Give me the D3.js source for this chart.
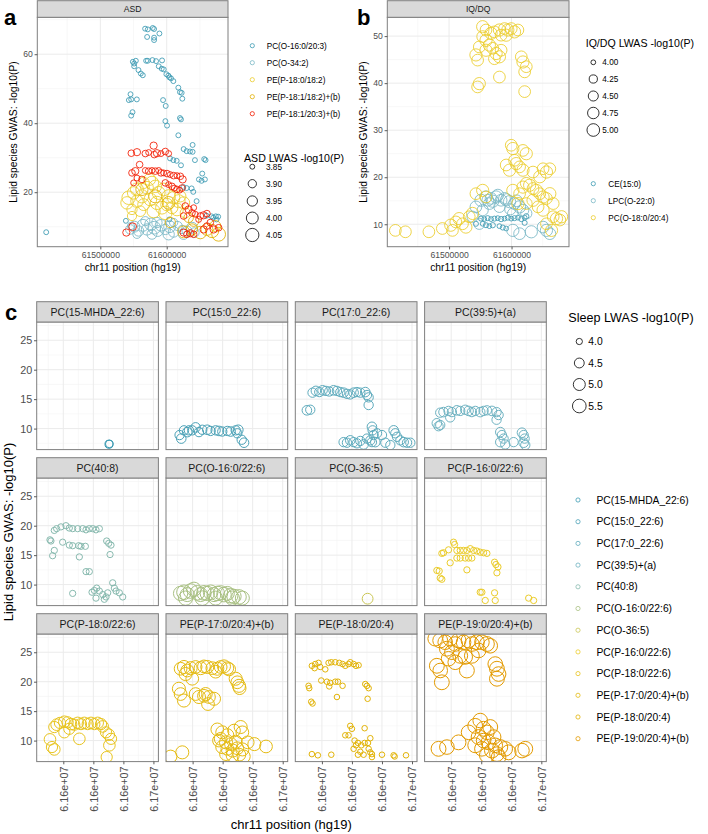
<!DOCTYPE html>
<html><head><meta charset="utf-8">
<script src="https://cdn.jsdelivr.net/npm/d3@7"></script>
<style>
body{margin:0;background:#fff;}
svg{display:block;}
</style></head><body>
<svg id="chart" width="708" height="834"></svg>
<script>
// ---------------- DATA ----------------
const zissou = ["#3B9AB2","#78B7C5","#EBCC2A","#E1AF00","#F21A00"];

// Panel a (ASD): [chr11 position, lipid GWAS -log10(P), ASD LWAS -log10(P)]
const asdSeries = ["PC(O-16:0/20:3)","PC(O-34:2)","PE(P-18:0/18:2)","PE(P-18:1/18:2)+(b)","PE(P-18:1/20:3)+(b)"];
const asd_PCO16 = [[61567500,67.4,3.85],[61571500,67.2,3.85],[61579000,67.6,3.85],[61581000,67.3,3.85],[61589000,66.0,3.85],[61570500,65.0,3.85],[61581000,64.8,3.85],[61581000,64.1,3.85],
[61549000,57.8,3.85],[61551000,57.3,3.85],[61553500,58.1,3.85],[61569000,58.1,3.85],[61571500,58.1,3.85],[61578500,58.3,3.85],[61584000,58.0,3.85],[61593000,58.2,3.85],[61588000,56.5,3.85],[61592500,55.8,3.85],[61595500,55.6,3.85],[61599500,54.2,3.85],[61602500,53.8,3.85],[61604000,53.3,3.85],[61606500,53.0,3.85],[61610000,52.2,3.85],[61551000,56.5,3.85],[61557500,55.4,3.85],[61561000,54.4,3.85],[61564000,53.9,3.85],[61617500,50.3,3.85],[61620000,49.0,3.85],[61622500,48.8,3.85],[61623500,47.1,3.85],[61545500,48.4,3.85],[61543000,46.7,3.85],[61546500,46.9,3.85],[61555000,46.9,3.85],[61594500,46.7,3.85],[61598500,45.0,3.85],[61548500,43.2,3.85],[61546500,42.2,3.85],[61620000,41.5,3.85],[61621500,41.1,3.85],[61598000,40.6,3.85],[61600500,39.3,3.85],[61617500,36.5,3.85],[61639000,33.7,3.85],[61625500,32.5,3.85],[61630000,31.9,3.85],[61635000,31.8,3.85],[61639000,31.7,3.85],[61605000,29.8,3.85],[61610000,29.3,3.85],[61615000,29.1,3.85],[61621500,27.8,3.85],[61642500,29.3,3.85],[61656500,29.6,3.85],[61658500,29.3,3.85],[61653500,25.4,3.85],[61648500,23.7,3.85],[61652500,23.3,3.85],[61657500,23.7,3.85],[61625000,21.5,3.85],[61630000,21.2,3.85],[61637500,21.1,3.85],[61640000,20.1,3.85],[61645000,17.4,3.85],[61538500,11.7,3.85],[61604000,12.1,3.85],[61660000,13.2,3.85],[61667500,13.0,3.85],[61670000,12.6,3.85],[61674000,13.0,3.85],[61677500,12.9,3.85],[61675000,12.1,3.85],[61418500,8.4,3.85]];
const asd_PCO34 = [[61545200,9.2,3.93],[61551200,10.0,3.97],[61557700,8.75,3.95],[61564300,10.4,4.00],[61570300,9.2,3.98],[61576300,10.7,4.02],[61581300,9.7,4.03],[61586300,8.75,3.97],[61591400,10.4,3.99],[61597900,9.2,3.95],[61604400,10.0,4.00],[61610400,8.5,3.96],[61616500,10.2,3.92],[61623000,9.2,3.90],[61630500,8.75,3.94],[61638100,9.7,3.97],[61641600,8.3,3.93],[61555200,7.8,3.90],[61577800,7.8,3.94],[61602900,7.8,3.98],[61625500,7.8,3.95],[61567800,11.6,3.92],[61585300,11.2,3.95],[61610400,11.2,3.90],[61546200,10.2,3.88]];
const asd_PEP180 = [[61542700,18.4,4.06],[61550200,19.8,4.02],[61555200,20.8,4.04],[61562700,18.8,4.05],[61570300,21.3,4.03],[61577800,22.7,4.05],[61582800,21.7,4.02],[61587800,19.8,4.04],[61595400,20.8,4.03],[61602900,18.8,4.05],[61610400,18.4,4.02],[61617900,17.4,4.04],[61625500,16.9,4.01],[61555200,17.4,4.02],[61565300,16.4,4.00],[61575300,17.9,4.03],[61585300,16.9,4.05],[61592900,15.5,4.03],[61600400,16.4,4.02],[61607900,15.5,4.00],[61615500,15.0,4.03],[61580300,14.5,4.05],[61597900,14.0,4.06],[61547700,15.0,3.95],[61547700,13.1,3.92],[61565300,22.7,3.98],[61574300,23.7,4.00],[61540200,16.9,4.02],[61620500,18.8,3.98],[61560200,14.5,3.96],[61628000,14.0,3.95]];
const asd_PEP181 = [[61625500,8.5,4.00],[61638100,9.2,3.98],[61650600,8.3,4.02],[61660600,9.2,4.00],[61668200,8.75,4.05],[61678200,7.8,4.07],[61673200,10.2,3.97],[61605400,11.2,3.95],[61633000,12.6,3.93],[61602900,16.9,4.03],[61582800,18.8,4.04],[61562700,20.8,4.01],[61640600,11.6,3.95]];
const asd_PEP181_203 = [[61546700,31.3,3.87],[61555200,31.6,3.88],[61567800,31.2,3.87],[61572800,31.5,3.86],[61580300,33.5,3.88],[61581300,30.9,3.87],[61585300,31.3,3.88],[61591400,31.2,3.86],[61597900,31.8,3.87],[61602900,31.2,3.86],
[61547700,25.6,3.87],[61552700,26.1,3.88],[61555200,24.1,3.86],[61559200,28.0,3.87],[61567800,26.3,3.86],[61572800,26.1,3.87],[61577800,26.3,3.86],[61582800,26.1,3.87],[61587800,26.3,3.86],[61591400,25.6,3.87],[61595400,25.6,3.86],[61600400,25.4,3.87],[61605400,25.1,3.86],[61610400,24.8,3.87],[61615500,24.8,3.86],[61620500,24.6,3.87],[61624000,23.7,3.88],[61562700,23.7,3.87],[61550200,22.7,3.86],
[61597900,22.7,3.87],[61602900,22.2,3.86],[61607900,21.7,3.87],[61611400,21.2,3.86],[61615500,20.8,3.87],[61619500,20.6,3.86],[61623000,21.2,3.87],
[61628000,16.0,3.87],[61633000,15.0,3.88],[61638100,14.0,3.87],[61643100,13.6,3.86],[61650600,13.1,3.87],[61655600,13.3,3.88],[61660600,13.8,3.87],[61640600,15.5,3.86],[61625500,13.1,3.87],[61648100,12.1,3.86],[61665700,11.2,3.87],
[61539200,8.3,3.88],[61548700,10.0,3.89],[61625500,8.3,3.88],[61630500,7.8,3.87],[61635500,8.1,3.88],[61640600,7.8,3.87],[61655600,9.2,3.88],[61660600,10.2,3.87],[61670700,9.2,3.88],[61678200,9.7,3.87]];
const asdSizeBreaks = [3.85,3.90,3.95,4.00,4.05];
const asdYTicks = [20,40,60];
const posTicks = [61500000,61600000];

// Panel b (IQ/DQ)
const iqSeries = ["CE(15:0)","LPC(O-22:0)","PC(O-18:0/20:4)"];
const iq_CE = [[61551100,11.2,4.01],[61556400,11.1,4.00],[61561800,11.3,4.01],[61567200,11.1,4.00],[61572600,11.2,4.01],[61578000,11.3,4.00],[61583300,11.1,4.02],[61588700,11.2,4.00],[61594100,11.4,4.01],[61599500,11.2,4.00],[61604800,11.3,4.01],[61610200,11.4,4.00],[61615600,11.1,4.01],[61621000,11.4,4.00],[61623600,11.7,4.02],[61543000,10.1,4.01],[61553800,10.1,4.00],[61559100,9.8,4.01],[61564500,9.6,4.00],[61569900,9.8,4.02],[61580600,9.6,4.00],[61586000,9.3,4.01],[61591400,9.1,4.00],[61621000,10.3,4.01]];
const iq_LPC = [[61543000,13.7,4.8],[61551100,15.1,4.9],[61559100,15.8,4.9],[61567200,15.5,4.8],[61575300,15.8,4.9],[61583300,15.1,4.8],[61588700,15.5,4.8],[61596800,14.8,4.9],[61604800,14.4,4.8],[61612900,13.7,4.9],[61618300,13.0,4.8],[61623600,12.3,4.7],[61553800,13.0,4.7],[61564500,14.4,4.8],[61580600,13.7,4.7],[61602100,12.3,4.6],[61537600,11.6,4.7],[61602100,8.7,4.9],[61612900,8.0,4.8],[61631700,8.4,4.9],[61650500,9.4,4.8],[61655900,8.7,4.9],[61661300,8.0,4.8],[61548400,10.1,4.7],[61570000,14.9,4.9],[61578000,16.2,4.8],[61592000,15.2,4.9],[61562000,15.1,4.8],[61598000,13.2,4.7],[61608000,15.0,4.8]];
const iq_PC = [[61553800,52.0,4.9],[61559100,51.3,4.8],[61567200,50.6,4.9],[61572600,50.9,4.8],[61580600,51.3,4.9],[61588700,51.6,4.8],[61594100,51.3,4.9],[61599500,51.6,4.8],[61604800,50.9,4.9],[61610200,51.3,4.8],[61591400,50.2,4.9],[61583300,50.2,4.8],[61553800,49.9,4.8],[61559100,49.1,4.9],[61548400,47.7,4.8],[61559100,47.0,4.9],[61569900,47.4,4.8],[61575300,46.3,4.9],[61583300,47.0,4.8],[61580600,45.6,4.9],[61572600,45.2,4.8],[61543000,46.0,4.9],[61545700,44.9,4.8],[61564500,48.1,4.9],[61615600,45.6,4.8],[61618300,44.5,4.9],[61623600,43.5,4.8],[61621000,42.4,4.8],[61580600,41.3,4.8],[61548400,39.9,4.9],[61545700,39.2,4.8],[61621000,38.2,4.8],
[61599500,26.8,4.8],[61602100,26.1,4.9],[61618300,25.7,4.8],[61623600,25.0,4.9],[61604800,23.6,4.8],[61607500,22.9,4.9],[61612900,22.2,4.8],[61618300,21.5,4.9],[61591400,22.6,4.8],[61596800,21.5,4.9],[61650500,21.8,4.8],[61655900,21.1,4.9],[61661300,21.8,4.8],[61634400,21.1,4.8],[61645200,20.1,4.9],
[61543000,16.5,4.8],[61553800,17.2,4.9],[61559100,15.8,4.8],[61602100,17.2,4.9],[61612900,16.5,4.8],[61618300,17.9,4.9],[61623600,18.7,4.8],[61629000,18.3,4.9],[61634400,17.6,4.8],[61639800,17.2,4.9],[61645200,16.5,4.8],[61650500,15.8,4.9],[61655900,15.5,4.8],[61661300,16.5,4.9],[61666700,14.4,4.8],[61610200,14.4,4.9],[61623600,14.4,4.8],[61634400,15.1,4.9],[61642500,13.7,4.8],[61650500,13.0,4.9],[61666700,11.6,4.8],[61672000,11.2,4.9],[61677400,10.9,4.8],[61680100,11.6,4.9],[61655900,10.1,4.8],[61664000,8.7,4.9],
[61414000,8.7,4.8],[61430100,8.4,4.8],[61467700,8.4,4.8],[61489200,9.1,4.8],[61502700,9.8,4.9],[61510800,10.5,4.8],[61516100,11.2,4.9],[61521500,10.1,4.8],[61526900,9.4,4.9],[61505400,8.7,4.8],[61532300,11.6,4.8],[61537600,12.3,4.9]];
const iqSizeBreaks = [4.00,4.25,4.50,4.75,5.00];
const iqYTicks = [10,20,30,40,50];

// Panel c (Sleep)
const sleepSeries = ["PC(15-MHDA_22:6)","PC(15:0_22:6)","PC(17:0_22:6)","PC(39:5)+(a)","PC(40:8)","PC(O-16:0/22:6)","PC(O-36:5)","PC(P-16:0/22:6)","PC(P-18:0/22:6)","PE(P-17:0/20:4)+(b)","PE(P-18:0/20:4)","PE(P-19:0/20:4)+(b)"];
const sl_PC15MHDA = [[61626100,7.34,4.2],[61626600,7.4,4.15]];
const sl_PC150 = [[61528300,8.9,4.4],[61531100,8.3,4.45],[61535600,9.7,4.4],[61541100,9.4,4.45],[61549400,9.7,4.4],[61555000,10.2,4.45],[61560600,9.4,4.4],[61566100,9.8,4.4],[61574400,9.8,4.45],[61580000,9.6,4.4],[61588300,9.7,4.4],[61593900,9.6,4.45],[61599400,9.5,4.4],[61607800,9.6,4.4],[61613300,9.5,4.45],[61621700,9.7,4.4],[61626100,9.8,4.45],[61631700,8.1,4.4],[61635600,7.6,4.45],[61543900,9.7,4.4],[61624400,9.2,4.4]];
const sl_PC170 = [[61534400,16.1,4.4],[61540000,16.4,4.45],[61545600,16.2,4.4],[61551100,16.5,4.45],[61556700,16.4,4.4],[61562200,16.3,4.4],[61569400,16.5,4.45],[61575000,16.4,4.4],[61580600,16.2,4.4],[61586100,16.1,4.45],[61591700,15.9,4.4],[61597200,15.8,4.4],[61602800,16.1,4.45],[61608300,16.2,4.4],[61613900,16.1,4.4],[61622200,16.2,4.45],[61625000,15.7,4.4],[61627800,15.3,4.4],[61627800,14.0,4.4],
[61525000,13.1,4.45],[61530600,13.2,4.4],
[61586100,7.7,4.4],[61591700,7.6,4.4],[61597200,8.0,4.45],[61602800,7.7,4.4],[61608300,7.5,4.4],[61613900,7.9,4.4],[61619400,7.3,4.45],[61625000,8.3,4.4],[61630600,8.0,4.4],[61633300,10.3,4.45],[61634400,9.7,4.4],[61636100,8.9,4.4],[61638900,7.7,4.45],[61641700,9.2,4.4],[61650000,8.9,4.4],[61655600,7.6,4.4],[61663900,7.2,4.4],[61669500,9.7,4.45],[61672200,9.2,4.4],[61675000,8.6,4.4],[61680600,8.0,4.4],[61686100,7.7,4.45],[61691700,7.6,4.4],[61697200,7.6,4.4],[61633300,7.7,4.4]];
const sl_PC395 = [[61531700,12.7,4.4],[61537200,12.8,4.45],[61545600,13.0,4.4],[61551100,12.8,4.4],[61559400,13.1,4.45],[61565000,13.0,4.4],[61573300,13.2,4.4],[61578900,13.0,4.45],[61584400,12.8,4.4],[61590000,13.0,4.4],[61598300,12.8,4.45],[61603900,13.0,4.4],[61609400,13.1,4.4],[61617800,13.0,4.45],[61625500,12.8,4.4],[61628900,12.3,4.4],[61625500,11.5,4.4],[61548300,11.9,4.4],[61526100,10.9,4.45],[61528900,10.4,4.4],[61531700,10.6,4.4],[61631700,9.4,4.45],[61634400,8.9,4.4],[61637200,8.3,4.4],[61631700,7.7,4.45],[61640000,7.3,4.4],[61653900,7.7,4.4],[61667800,9.3,4.45],[61670600,8.9,4.4],[61672200,8.3,4.4],[61670600,7.6,4.45],[61673300,7.2,4.4]];
const sl_PC408 = [[61535000,19.2,4.0],[61538900,19.5,4.0],[61546100,19.8,4.0],[61554400,20.0,4.0],[61560000,19.6,4.0],[61565600,19.5,4.0],[61573900,19.5,4.0],[61582200,19.5,4.0],[61587800,19.3,4.0],[61593300,19.5,4.0],[61598900,19.5,4.0],[61604400,19.3,4.0],[61610000,19.5,4.0],[61527800,17.6,4.0],[61529400,17.4,4.0],[61548900,17.2,4.0],[61560000,16.7,4.0],[61565600,16.6,4.0],[61575600,16.6,4.0],[61579400,16.5,4.0],[61586700,16.5,4.0],[61535000,15.8,4.0],[61532200,14.9,4.0],[61576700,14.7,4.0],[61587800,12.2,4.0],[61593300,12.2,4.0],[61622200,17.4,4.0],[61625600,17.0,4.0],[61629400,16.7,4.0],[61627800,15.1,4.0],[61565600,8.5,4.0],[61597800,8.7,4.0],[61601700,9.0,4.0],[61605600,9.4,4.0],[61610000,8.9,4.0],[61615600,8.3,4.0],[61621100,7.9,4.0],[61623900,8.6,4.0],[61632200,10.3,4.0],[61635000,9.4,4.0],[61637800,8.9,4.0],[61643300,8.6,4.0],[61648900,7.9,4.0],[61618300,7.5,4.0],[61604400,7.7,4.0]];
const sl_PCO160 = [[61530000,8.5,5.7],[61535600,8.7,5.8],[61541100,8.3,5.6],[61546700,8.9,5.8],[61552200,9.2,5.7],[61557800,8.6,5.8],[61563300,8.3,5.6],[61568900,8.6,5.8],[61574400,8.5,5.7],[61580000,8.7,5.8],[61585600,8.3,5.6],[61591100,8.5,5.8],[61596700,8.6,5.7],[61602200,8.3,5.8],[61607800,8.5,5.6],[61613300,8.1,5.8],[61618900,8.0,5.7],[61627200,7.9,5.8],[61632800,7.7,5.6],[61538300,7.7,5.7],[61566100,7.7,5.8],[61588300,7.7,5.6],[61616100,7.7,5.7]];
const sl_PCO365 = [[61626100,7.6,4.7]];
const sl_PCP160 = [[61553900,17.2,4.0],[61555600,16.8,4.0],[61545600,15.9,4.0],[61537200,15.4,4.0],[61534400,15.3,4.0],[61559400,15.8,4.0],[61565000,15.8,4.0],[61570600,15.8,4.0],[61576100,15.8,4.0],[61581700,16.1,4.0],[61587200,15.8,4.0],[61592800,15.7,4.0],[61598300,15.5,4.0],[61603900,15.4,4.0],[61609400,15.3,4.0],[61559400,14.5,4.0],[61565000,14.5,4.0],[61573300,14.5,4.0],[61578900,14.5,4.0],[61584400,14.5,4.0],[61548300,13.7,4.0],[61576100,12.5,4.0],[61526100,12.4,4.0],[61530000,12.3,4.0],[61531700,11.1,4.0],[61534400,10.9,4.0],[61622200,13.8,4.0],[61624400,13.4,4.0],[61627800,13.0,4.0],[61626100,12.0,4.0],[61598300,8.7,4.0],[61601100,8.7,4.0],[61606700,7.3,4.0],[61622200,8.6,4.0],[61623300,7.3,4.0],[61678900,7.7,4.0],[61687200,7.3,4.0]];
const sl_PCP180 = [[61535000,12.3,4.8],[61538900,12.7,4.9],[61544400,13.0,4.8],[61551700,13.2,4.9],[61557200,13.1,4.8],[61562800,12.8,4.9],[61568300,12.7,4.8],[61573900,13.0,4.9],[61579400,12.8,4.8],[61585000,13.0,4.9],[61590600,12.8,4.8],[61596100,13.0,4.9],[61601700,12.8,4.8],[61607200,13.0,4.9],[61612800,12.8,4.8],[61615600,12.4,4.9],[61621100,11.4,4.8],[61625600,11.0,4.9],[61629400,10.3,4.8],[61626700,9.2,4.9],[61622200,7.2,4.8],[61527800,10.2,4.9],[61531100,8.9,4.8],[61535000,8.5,4.9],[61551700,11.4,4.8],[61576700,10.3,4.9],[61560000,12.0,4.8]];
const sl_PEP170 = [[61530000,22.2,5.2],[61535600,22.5,5.3],[61541100,21.9,5.2],[61546700,22.3,5.3],[61555000,22.5,5.2],[61563300,22.3,5.3],[61568900,22.6,5.2],[61574400,22.5,5.3],[61582800,22.3,5.2],[61591100,22.2,5.3],[61596700,22.5,5.2],[61602200,22.6,5.3],[61607800,22.3,5.2],[61610600,22.1,5.3],[61588300,21.7,5.2],[61538300,21.3,5.3],[61549400,20.5,5.2],[61621700,20.5,5.3],[61624400,19.9,5.2],[61627200,19.3,5.3],[61628300,18.9,5.2],[61527200,18.8,5.3],[61530000,17.9,5.2],[61535600,16.8,5.3],[61555000,17.9,5.2],[61560600,17.4,5.3],[61568900,17.6,5.2],[61571700,17.9,5.3],[61577200,17.4,5.2],[61585600,17.1,5.3],[61575600,16.2,5.2],
[61513300,7.3,5.2],[61532800,8.0,5.3],[61591100,11.9,5.2],[61599400,11.4,5.3],[61596700,10.3,5.2],[61607800,10.9,5.3],[61618900,11.7,5.2],[61630000,12.3,5.3],[61632800,11.4,5.2],[61605600,9.7,5.3],[61613900,9.4,5.2],[61621700,9.8,5.3],[61641700,9.7,5.2],[61652800,9.4,5.3],[61672200,9.0,5.2],[61599400,8.9,5.3],[61607800,8.6,5.2],[61616700,8.3,5.3],[61624400,8.7,5.2],[61632800,8.5,5.3],[61605600,7.7,5.2],[61616700,7.5,5.3],[61627800,7.6,5.2],[61635000,7.3,5.3],[61593900,10.0,5.2]];
const sl_PEP180 = [[61533300,22.7,3.95],[61538900,23.0,3.95],[61544400,23.2,3.95],[61537800,22.3,3.95],[61547200,22.5,3.95],[61555600,22.1,3.95],[61561100,23.2,3.95],[61565600,23.3,3.95],[61572200,23.3,3.95],[61578900,23.2,3.95],[61584400,23.0,3.95],[61588900,22.7,3.95],[61594400,23.0,3.95],[61597200,23.3,3.95],[61602800,23.0,3.95],[61606700,22.7,3.95],[61611100,22.8,3.95],[61548900,20.2,3.95],[61558300,20.0,3.95],[61563900,19.8,3.95],[61562200,19.2,3.95],[61572200,20.0,3.95],[61576700,20.0,3.95],[61584400,19.3,3.95],[61527800,19.3,3.95],[61528900,18.9,3.95],[61575000,17.4,3.95],[61532200,16.6,3.95],[61534400,16.3,3.95],[61622200,19.6,3.95],[61625000,19.3,3.95],[61627800,18.9,3.95],[61626100,17.1,3.95],
[61597200,12.5,3.95],[61600000,12.0,3.95],[61621100,12.1,3.95],[61588900,10.9,3.95],[61594400,10.9,3.95],[61630600,10.4,3.95],[61604400,10.0,3.95],[61610000,9.6,3.95],[61615600,9.2,3.95],[61621100,9.6,3.95],[61626700,9.6,3.95],[61606700,9.2,3.95],[61602800,8.6,3.95],[61613900,8.1,3.95],[61627800,8.6,3.95],[61630600,8.0,3.95],[61633300,7.7,3.95],[61610000,7.6,3.95],[61619400,7.6,3.95],[61633300,7.2,3.95],[61533300,7.7,3.95],[61543300,7.5,3.95],[61565600,7.6,3.95],[61650000,7.6,3.95],[61669400,7.5,3.95],[61671100,7.3,3.95],[61690000,7.5,3.95]];
const sl_PEP190 = [[61523300,27.3,5.8],[61531700,27.0,5.9],[61540000,26.7,5.8],[61548300,27.3,5.9],[61556700,26.4,5.8],[61562200,27.0,5.9],[61570600,26.7,5.8],[61578900,27.0,5.9],[61584400,26.4,5.8],[61592800,26.7,5.9],[61601100,26.7,5.8],[61609400,26.4,5.9],[61615000,26.1,5.8],[61542800,25.6,5.9],[61551100,25.0,5.8],[61565000,24.4,5.9],[61573300,24.2,5.8],[61584400,24.4,5.9],[61595600,25.3,5.8],[61526100,22.7,5.9],[61531700,21.9,5.8],[61534400,19.9,5.9],[61556700,23.3,5.8],[61576100,21.9,5.9],[61623300,23.0,5.8],[61626100,22.2,5.9],[61628900,21.3,5.8],[61626100,20.5,5.9],[61545600,23.9,5.8],
[61528900,8.6,5.9],[61542800,8.9,5.8],[61562200,9.7,5.9],[61578900,11.4,5.8],[61590000,12.5,5.9],[61598300,13.4,5.8],[61603900,12.0,5.9],[61609400,11.4,5.8],[61615000,12.3,5.9],[61620600,10.6,5.8],[61595600,10.6,5.9],[61603900,10.0,5.8],[61612200,9.7,5.9],[61623300,9.2,5.8],[61590000,9.2,5.9],[61601100,8.6,5.8],[61617800,8.3,5.9],[61626100,7.7,5.8],[61631700,8.9,5.9],[61640000,8.6,5.8],[61645600,8.0,5.9],[61667800,8.3,5.8],[61673300,8.6,5.9],[61628900,7.2,5.8],[61609400,7.5,5.9]];
const sleepData = [sl_PC15MHDA, sl_PC150, sl_PC170, sl_PC395, sl_PC408, sl_PCO160, sl_PCO365, sl_PCP160, sl_PCP180, sl_PEP170, sl_PEP180, sl_PEP190];
const sleepSizeBreaks = [4.0,4.5,5.0,5.5];
const sleepYTicks = [10,15,20,25];
const sleepXTicks = [61550000,61600000,61650000,61700000];
const sleepXTickLabels = ["6.16e+07","6.16e+07","6.16e+07","6.17e+07"];

// ---------------- DRAWING ----------------
const FONT = '"Liberation Sans", Arial, Helvetica, sans-serif';
const svg = d3.select("#chart").attr("font-family", FONT);
svg.append("rect").attr("width",708).attr("height",834).attr("fill","#fff");
const BORDER = "#7F7F7F", STRIP = "#D9D9D9", TICKTXT = "#4D4D4D";
let clipN = 0;

function sizeScale(m, M, r0, k){
  const t = d3.scaleLinear().domain([m, M]).range([0, 1]).clamp(true);
  return v => r0 + k * Math.sqrt(t(v));
}
const rA = sizeScale(3.84, 4.08, 1.3, 5.7);
const rB = sizeScale(3.98, 5.05, 1.75, 4.7);
const rC = sizeScale(3.9, 5.95, 1.9, 5.6);

function panel(o){
  const g = svg.append("g").attr("transform",`translate(${o.x0},${o.y0})`);
  g.append("rect").attr("width",o.w).attr("height",o.h).attr("fill","#fff");
  const gm = g.append("g");
  gm.selectAll("line").data(o.xMinor).join("line").attr("x1",d=>o.x(d)).attr("x2",d=>o.x(d)).attr("y1",0).attr("y2",o.h).attr("stroke","#F3F3F3").attr("stroke-width",0.6);
  const gm2 = g.append("g");
  gm2.selectAll("line").data(o.yMinor).join("line").attr("y1",d=>o.y(d)).attr("y2",d=>o.y(d)).attr("x1",0).attr("x2",o.w).attr("stroke","#F3F3F3").attr("stroke-width",0.6);
  const gM = g.append("g");
  gM.selectAll("line").data(o.xMajor).join("line").attr("x1",d=>o.x(d)).attr("x2",d=>o.x(d)).attr("y1",0).attr("y2",o.h).attr("stroke","#EBEBEB").attr("stroke-width",1);
  const gM2 = g.append("g");
  gM2.selectAll("line").data(o.yMajor).join("line").attr("y1",d=>o.y(d)).attr("y2",d=>o.y(d)).attr("x1",0).attr("x2",o.w).attr("stroke","#EBEBEB").attr("stroke-width",1);
  const id = "clip" + (clipN++);
  svg.append("clipPath").attr("id",id).append("rect").attr("width",o.w).attr("height",o.h);
  const pts = g.append("g").attr("clip-path",`url(#${id})`);
  o.series.forEach(s => {
    pts.append("g").selectAll("circle").data(s.data).join("circle")
      .attr("cx",d=>o.x(d[0])).attr("cy",d=>o.y(d[1])).attr("r",d=>o.r(d[2]))
      .attr("fill","none").attr("stroke",s.color).attr("stroke-width",o.sw||0.85);
  });
  g.append("rect").attr("width",o.w).attr("height",o.h).attr("fill","none").attr("stroke",BORDER).attr("stroke-width",1);
  return g;
}
function strip(x0, y0, w, h, label, fs){
  svg.append("rect").attr("x",x0).attr("y",y0).attr("width",w).attr("height",h).attr("fill",STRIP).attr("stroke",BORDER).attr("stroke-width",1);
  svg.append("text").attr("x",x0+w/2).attr("y",y0+h/2).attr("dy","0.35em").attr("text-anchor","middle").attr("font-size",fs).attr("fill","#1A1A1A").text(label);
}
function yAxis(g, y, ticks, fs, fmt){
  const a = g.append("g").call(d3.axisLeft(y).tickValues(ticks).tickSize(2.7).tickPadding(1.8).tickFormat(fmt||d3.format("d")));
  a.attr("font-family",FONT).attr("font-size",fs);
  a.select(".domain").remove();
  a.selectAll(".tick line").attr("stroke","#333").attr("stroke-width",0.8);
  a.selectAll(".tick text").attr("fill",TICKTXT);
  return a;
}
function xAxis(g, x, h, ticks, fs, fmt){
  const a = g.append("g").attr("transform",`translate(0,${h})`).call(d3.axisBottom(x).tickValues(ticks).tickSize(2.7).tickPadding(2.6).tickFormat(fmt||d3.format("d")));
  a.attr("font-family",FONT).attr("font-size",fs);
  a.select(".domain").remove();
  a.selectAll(".tick line").attr("stroke","#333").attr("stroke-width",0.8);
  a.selectAll(".tick text").attr("fill",TICKTXT);
  return a;
}
function text(x, y, s, fs, opts={}){
  const t = svg.append("text").attr("x",x).attr("y",y).attr("font-size",fs).attr("fill",opts.fill||"#000").text(s);
  if(opts.anchor) t.attr("text-anchor",opts.anchor);
  if(opts.dy) t.attr("dy",opts.dy);
  if(opts.weight) t.attr("font-weight",opts.weight);
  if(opts.rotate) t.attr("transform",`rotate(-90,${x},${y})`);
  return t;
}
function colorLegend(names, colors, cx, tx, y0, step, fs, r){
  names.forEach((n,i)=>{
    const yy = y0 + i*step;
    svg.append("circle").attr("cx",cx).attr("cy",yy).attr("r",r).attr("fill","none").attr("stroke",colors[i]).attr("stroke-width",0.8);
    text(tx, yy, n, fs, {dy:"0.35em"});
  });
}
function sizeLegend(title, breaks, rfun, titleX, titleY, tfs, cx, tx, ys, fs, fmt){
  text(titleX, titleY, title, tfs, {dy:"0.35em"});
  breaks.forEach((b,i)=>{
    svg.append("circle").attr("cx",cx).attr("cy",ys[i]).attr("r",rfun(b)).attr("fill","none").attr("stroke","#000").attr("stroke-width",0.8);
    text(tx, ys[i], fmt(b), fs, {dy:"0.35em"});
  });
}

// ---- Panel a ----
{
  const x0=37.3, y0=17.3, w=190.7, h=229.4;
  const x = d3.scaleLinear().domain([61405100,61692300]).range([0,w]);
  const y = d3.scaleLinear().domain([4.2,70.7]).range([h,0]);
  const g = panel({x0,y0,w,h,x,y,xMajor:posTicks,xMinor:[61450000,61550000,61650000],yMajor:asdYTicks,yMinor:[10,30,50,70],r:rA,
    series:[asd_PCO16,asd_PCO34,asd_PEP180,asd_PEP181,asd_PEP181_203].map((d,i)=>({data:d,color:zissou[i]}))});
  strip(x0, 0.7, w, 16.6, "ASD", 8.6);
  yAxis(g, y, asdYTicks, 8.6);
  xAxis(g, x, h, posTicks, 8.6);
  text(13, y0+h/2, "Lipid species GWAS: -log10(P)", 10.3, {anchor:"middle", dy:"0.35em", rotate:true});
  text(x0+w/2, 267.7, "chr11 position (hg19)", 10.3, {anchor:"middle", dy:"0.35em"});
  text(4, 25, "a", 22, {weight:"bold"});
  colorLegend(asdSeries, zissou, 252.3, 266.7, 45.7, 17, 8.2, 2.1);
  sizeLegend("ASD LWAS -log10(P)", asdSizeBreaks, rA, 244, 158.3, 10.6, 252.3, 266, [166.7,183.7,201,218,235], 8.2, d3.format(".2f"));
}

// ---- Panel b ----
{
  const x0=387.3, y0=17.3, w=181.7, h=229.4;
  const x = d3.scaleLinear().domain([61401100,61692000]).range([0,w]);
  const y = d3.scaleLinear().domain([5.23,54.0]).range([h,0]);
  const g = panel({x0,y0,w,h,x,y,xMajor:posTicks,xMinor:[61450000,61550000,61650000],yMajor:iqYTicks,yMinor:[15,25,35,45],r:rB,
    series:[iq_CE,iq_LPC,iq_PC].map((d,i)=>({data:d,color:zissou[i]}))});
  strip(x0, 0.7, w, 16.6, "IQ/DQ", 8.6);
  yAxis(g, y, iqYTicks, 8.6);
  xAxis(g, x, h, posTicks, 8.6);
  text(363.5, y0+h/2, "Lipid species GWAS: -log10(P)", 10.3, {anchor:"middle", dy:"0.35em", rotate:true});
  text(x0+w/2, 267.7, "chr11 position (hg19)", 10.3, {anchor:"middle", dy:"0.35em"});
  text(357, 25, "b", 22, {weight:"bold"});
  sizeLegend("IQ/DQ LWAS -log10(P)", iqSizeBreaks, rB, 585.7, 43.3, 10.6, 593.3, 602.3, [62.3,79,96,113,130], 8.2, d3.format(".2f"));
  colorLegend(iqSeries, zissou, 593.3, 608.3, 183.7, 17, 8.2, 2.1);
}

// ---- Panel c ----
{
  const ramp = d3.scaleLinear().domain([0,1,2,3,4]).range(zissou).interpolate(d3.interpolateRgb);
  const cColors = sleepSeries.map((_,i)=>ramp(i*4/14));
  const left=36.7, w=121.7, pitchX=129.3, top=301.7, stripH=20.3, h=127.6, pitchY=156;
  const x = d3.scaleLinear().domain([61505700,61708300]).range([0,w]);
  const y = d3.scaleLinear().domain([6.43,28.1]).range([h,0]);
  const xMinor = [61525000,61575000,61625000,61675000];
  const yMinor = [7.5,12.5,17.5,22.5,27.5];
  sleepSeries.forEach((name,i)=>{
    const col = i%4, row = Math.floor(i/4);
    const x0 = left + col*pitchX, sy = top + row*pitchY, y0 = sy + stripH;
    const g = panel({x0,y0,w,h,x,y,xMajor:sleepXTicks,xMinor,yMajor:sleepYTicks,yMinor,r:rC,sw:1,
      series:[{data:sleepData[i], color:cColors[i]}]});
    strip(x0, sy, w, stripH, name, 10.5);
    if(col===0) yAxis(g, y, sleepYTicks, 10.8);
    if(row===2){
      const a = xAxis(g, x, h, sleepXTicks, 10.8, (d,k)=>sleepXTickLabels[k]);
      a.selectAll(".tick text").attr("transform","rotate(-90)").attr("text-anchor","end")
        .attr("x",-(2.7+2.2)).attr("y",0).attr("dy","0.36em");
    }
  });
  text(5, 312, "c", 22, {weight:"bold", dy:"0.35em"});
  text(8.5, 532, "Lipid species GWAS: -log10(P)", 13, {anchor:"middle", dy:"0.35em", rotate:true});
  text(291.3, 824, "chr11 position (hg19)", 13, {anchor:"middle", dy:"0.35em"});
  sizeLegend("Sleep LWAS -log10(P)", sleepSizeBreaks, rC, 568.3, 318, 12.6, 579.3, 588.3, [341.5,363,384.5,406], 10.3, d3.format(".1f"));
  colorLegend(sleepSeries, cColors, 578, 596.5, 500, 21.7, 10.3, 2.1);
}
</script>
</body></html>
